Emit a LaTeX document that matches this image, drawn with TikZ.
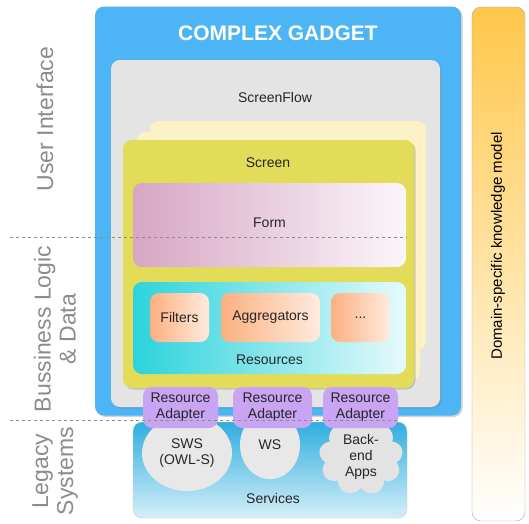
\documentclass[tikz,border=0pt]{standalone}
\usepackage{fontspec}
\setmainfont{Liberation Sans}
\usepackage{xcolor}
\usepackage{tikz}
\usetikzlibrary{shadows,shapes.symbols,shapes.geometric}

\definecolor{gadgetblue}{HTML}{4DB5F5}
\definecolor{flowgray}{HTML}{E4E4E4}
\definecolor{screenyellow}{HTML}{E2DC58}
\definecolor{pageyellow}{HTML}{FBF2C8}
\definecolor{formpink}{HTML}{D7A6C4}
\definecolor{rescyan}{HTML}{2CD3DC}
\definecolor{itemorange}{HTML}{FCB080}
\definecolor{adapterpurple}{HTML}{C8A4F2}
\definecolor{servblue}{HTML}{2FAEDF}
\definecolor{domainorange}{HTML}{FFC74A}
\definecolor{sidegray}{HTML}{8C8C8C}

\begin{document}
\begin{tikzpicture}[x=1pt,y=-1pt,
    panel/.style={rounded corners=9pt, inner sep=0pt},
    shad/.style={drop shadow={opacity=0.35, shadow xshift=1.5pt, shadow yshift=-1.5pt}},
    lbl/.style={font=\fontsize{14}{16}\selectfont, text=black!85, align=center, inner sep=0pt},
    sidelbl/.style={rotate=90, font=\fontsize{23}{25}\selectfont, text=sidegray, align=center, inner sep=0pt}]
    \useasboundingbox (0,0) rectangle (529,523);
    %SIDE LABELS
    \node[sidelbl] (ui) at (45,119) {User Interface};
    \node[sidelbl] (logic) at (55,329) {Bussiness Logic\\\& Data};
    \node[sidelbl] (legacy) at (55,471) {Legacy\\Systems};
    %DOMAIN MODEL
    \node[panel, draw=black!35, top color=domainorange, bottom color=white, minimum width=53pt, minimum height=514pt] (domain) at (498.5,264) {};
    \node[rotate=90, font=\fontsize{15}{17}\selectfont, inner sep=0pt] (domaintxt) at (498,246) {Domain-specific knowledge model};
    %GADGET
    \node[panel, fill=gadgetblue, shad, minimum width=366pt, minimum height=409pt] (gadget) at (278,211) {};
    \node[font=\bfseries\fontsize{21}{24}\selectfont, text=white, inner sep=0pt] (title) at (278,33) {COMPLEX GADGET};
    %SCREENFLOW
    \node[panel, fill=flowgray, shad, minimum width=329pt, minimum height=347pt] (flow) at (275.5,233.5) {};
    \node[lbl] (flowtxt) at (275,97) {ScreenFlow};
    %SCREENS
    \node[panel, fill=pageyellow, draw=screenyellow!40, minimum width=276pt, minimum height=229pt] (page2) at (288,235.5) {};
    \node[panel, fill=pageyellow, draw=screenyellow!40, minimum width=283pt, minimum height=248pt] (page1) at (278.5,256) {};
    \node[panel, fill=screenyellow, shad, minimum width=291pt, minimum height=248pt] (screen) at (268.5,264) {};
    \node[lbl] (screentxt) at (268,163) {Screen};
    %FORM
    \node[panel, left color=formpink, right color=formpink!10, minimum width=273pt, minimum height=84pt] (form) at (269.5,225) {};
    \node[lbl] (formtxt) at (269.5,223) {Form};
    %RESOURCES
    \node[panel, left color=rescyan, right color=rescyan!12, minimum width=273pt, minimum height=92pt] (res) at (269.5,328) {};
    \node[lbl] (restxt) at (269.5,360) {Resources};
    \node[panel, lbl, left color=itemorange, right color=itemorange!25, minimum width=59pt, minimum height=49pt] (filters) at (179.5,317.5) {Filters};
    \node[panel, lbl, left color=itemorange, right color=itemorange!25, minimum width=99pt, minimum height=49pt] (aggr) at (270.5,317.5) {Aggregators};
    \node[panel, lbl, left color=itemorange, right color=itemorange!25, minimum width=59pt, minimum height=49pt] (more) at (360.5,317.5) {...};
    %SERVICES
    \node[panel, top color=servblue, bottom color=servblue!20, draw=black!20, minimum width=274pt, minimum height=96pt] (serv) at (270,470) {};
    \node[lbl] (servtxt) at (273,498) {Services};
    \node[ellipse, lbl, fill=black!9, minimum width=90pt, minimum height=76pt] (sws) at (187,453) {SWS\\(OWL-S)};
    \node[ellipse, lbl, fill=black!9, minimum width=60pt, minimum height=68pt] (ws) at (270,445) {WS};
    \node[cloud, cloud puffs=9, lbl, fill=black!11, minimum width=84pt, minimum height=64pt] (apps) at (361,457) {Back-\\end\\Apps};
    %ADAPTERS
    \node[panel, lbl, fill=adapterpurple, minimum width=75pt, minimum height=41pt] (ad1) at (180.5,407.5) {Resource\\Adapter};
    \node[panel, lbl, fill=adapterpurple, minimum width=79pt, minimum height=41pt] (ad2) at (272.5,407.5) {Resource\\Adapter};
    \node[panel, lbl, fill=adapterpurple, minimum width=75pt, minimum height=41pt] (ad3) at (360.5,407.5) {Resource\\Adapter};
    %DASHED LINES
    \coordinate (up0) at (10,237);
    \coordinate (low0) at (10,420);
    \draw[dashed, black!45, thick] (up0) -- (form.east |- up0);
    \draw[dashed, black!45, thick] (low0) -- (ad3.east |- low0);
\end{tikzpicture}
\end{document}
